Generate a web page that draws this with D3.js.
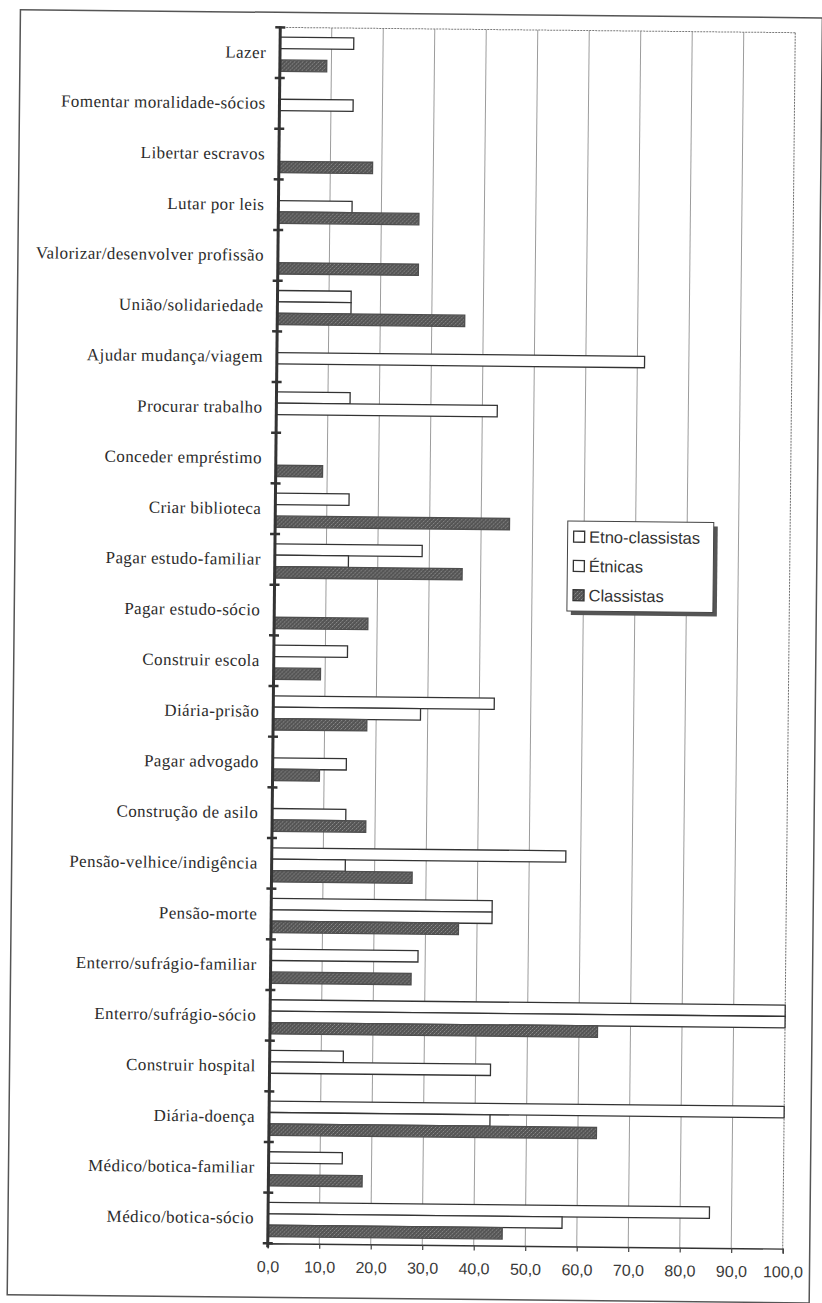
<!DOCTYPE html>
<html><head><meta charset="utf-8">
<script src="https://cdn.jsdelivr.net/npm/d3@7"></script>
<style>html,body{margin:0;padding:0;background:#fff;} svg{display:block}</style>
</head><body>
<svg id="chart" width="822" height="1303"></svg>
<script>
const categories = [
  "Lazer",
  "Fomentar moralidade-sócios",
  "Libertar escravos",
  "Lutar por leis",
  "Valorizar/desenvolver profissão",
  "União/solidariedade",
  "Ajudar mudança/viagem",
  "Procurar trabalho",
  "Conceder empréstimo",
  "Criar biblioteca",
  "Pagar estudo-familiar",
  "Pagar estudo-sócio",
  "Construir escola",
  "Diária-prisão",
  "Pagar advogado",
  "Construção de asilo",
  "Pensão-velhice/indigência",
  "Pensão-morte",
  "Enterro/sufrágio-familiar",
  "Enterro/sufrágio-sócio",
  "Construir hospital",
  "Diária-doença",
  "Médico/botica-familiar",
  "Médico/botica-sócio"
];
const seriesNames = ["Etno-classistas", "Étnicas", "Classistas"];
const etnoClassistas = [14.3, null, null, null, null, 14.3, null, 14.3, null, 14.3, 28.6, null, 14.3, 42.9, null, null, 57.1, 42.9, 28.6, 100, 14.3, 100, 14.3, 85.7];
const etnicas        = [null, 14.3, null, 14.3, null, 14.3, 71.4, 42.9, null, null, 14.3, null, null, 28.6, 14.3, 14.3, 14.3, 42.9, null, 100, 42.9, 42.9, null, 57.1];
const classistas     = [9.1, null, 18.2, 27.3, 27.3, 36.4, null, null, 9.1, 45.5, 36.4, 18.2, 9.1, 18.2, 9.1, 18.2, 27.3, 36.4, 27.3, 63.6, null, 63.6, 18.2, 45.5];
const tickValues = [0, 10, 20, 30, 40, 50, 60, 70, 80, 90, 100];
const tickLabels = ["0,0", "10,0", "20,0", "30,0", "40,0", "50,0", "60,0", "70,0", "80,0", "90,0", "100,0"];

const seriesData = [etnoClassistas, etnicas, classistas];
const svg = d3.select("#chart");
const m = {left: 274, right: 789, top: 30, bottom: 1246};

const defs = svg.append("defs");
const pat = defs.append("pattern").attr("id", "dots").attr("patternUnits", "userSpaceOnUse")
  .attr("width", 4).attr("height", 4);
pat.append("rect").attr("width", 4).attr("height", 4).attr("fill", "#545454");
[[0,0,"#909090"],[2,2,"#909090"],[1,3,"#707070"],[3,1,"#707070"]].forEach(p =>
  pat.append("rect").attr("x", p[0]).attr("y", p[1]).attr("width", 1).attr("height", 1).attr("fill", p[2]));

const root = svg.append("g").attr("transform", "rotate(0.59,531.5,638)");

// outer page frame
root.append("rect").attr("x", 14).attr("y", 15).attr("width", 802).attr("height", 1285)
  .attr("fill", "none").attr("stroke", "#555").attr("stroke-width", 1.5);

const x = d3.scaleLinear().domain([0, 100]).range([m.left, m.right]);
const y = d3.scaleBand().domain(categories).range([m.top, m.bottom]).padding(0);
const sub = d3.scaleBand().domain(seriesNames).range([y.bandwidth() * 0.193, y.bandwidth() * 0.868]);

// gridlines
root.append("g").selectAll("line").data(tickValues.slice(1)).join("line")
  .attr("x1", d => x(d)).attr("x2", d => x(d)).attr("y1", m.top).attr("y2", m.bottom)
  .attr("stroke", d => d === 100 ? "#6e6e6e" : "#9c9c9c").attr("stroke-width", 1)
  .attr("stroke-dasharray", d => d === 100 ? "2,1" : null);
root.append("line").attr("x1", m.left).attr("x2", m.right).attr("y1", m.top).attr("y2", m.top)
  .attr("stroke", "#7a7a7a").attr("stroke-width", 1).attr("stroke-dasharray", "2,1");

// bars
seriesNames.forEach((name, si) => {
  const rows = categories.map((c, i) => ({c: c, v: seriesData[si][i]})).filter(d => d.v != null);
  root.append("g").selectAll("rect").data(rows).join("rect")
    .attr("x", x(0)).attr("y", d => y(d.c) + sub(name))
    .attr("width", d => x(d.v) - x(0)).attr("height", sub.bandwidth())
    .attr("fill", si === 2 ? "url(#dots)" : "#fff")
    .attr("stroke", si === 2 ? "#4e4e4e" : "#333").attr("stroke-width", 1.3);
});

// bottom axis
const gx = root.append("g").attr("transform", `translate(0,${m.bottom})`)
  .call(d3.axisBottom(x).tickValues(tickValues).tickFormat((d, i) => tickLabels[i]).tickSize(5).tickPadding(12.5));
gx.select(".domain").attr("stroke", "#333").attr("stroke-width", 1.4);
gx.selectAll(".tick line").attr("stroke", "#444").attr("stroke-width", 1.2);
gx.selectAll(".tick text").attr("font-family", "'Liberation Sans', Arial, sans-serif")
  .attr("font-size", 16).attr("fill", "#3a3a3a");

// left axis with category labels
const gy = root.append("g").attr("transform", `translate(${m.left},0)`)
  .call(d3.axisLeft(y).tickSize(0).tickPadding(14));
gy.select(".domain").remove();
gy.selectAll(".tick text").attr("font-family", "'Liberation Serif', 'Times New Roman', serif")
  .attr("font-size", 17).attr("letter-spacing", "0.4px").attr("fill", "#2c2c2c");
root.append("line").attr("x1", m.left).attr("x2", m.left).attr("y1", m.top - 1).attr("y2", m.bottom + 4)
  .attr("stroke", "#333").attr("stroke-width", 3);
root.append("g").selectAll("line").data(d3.range(categories.length + 1)).join("line")
  .attr("x1", m.left - 5).attr("x2", m.left + 5)
  .attr("y1", i => m.top + i * y.step()).attr("y2", i => m.top + i * y.step())
  .attr("stroke", "#333").attr("stroke-width", 2.5);

// legend
const lg = root.append("g").attr("transform", "translate(566.6,520.6)");
lg.append("rect").attr("x", 4).attr("y", 4).attr("width", 146).attr("height", 90).attr("fill", "#555");
lg.append("rect").attr("x", 0).attr("y", 0).attr("width", 146).attr("height", 90)
  .attr("fill", "#fff").attr("stroke", "#444").attr("stroke-width", 1);
seriesNames.forEach((name, i) => {
  const cy = 15.6 + i * 29.3;
  lg.append("rect").attr("x", 6).attr("y", cy - 5.5).attr("width", 11).attr("height", 11)
    .attr("fill", i === 2 ? "url(#dots)" : "#fff").attr("stroke", "#333").attr("stroke-width", 1.3);
  lg.append("text").attr("x", 21.5).attr("y", cy + 6).text(name)
    .attr("font-family", "'Liberation Sans', Arial, sans-serif").attr("font-size", 16.5).attr("fill", "#333");
});
</script>
</body></html>
